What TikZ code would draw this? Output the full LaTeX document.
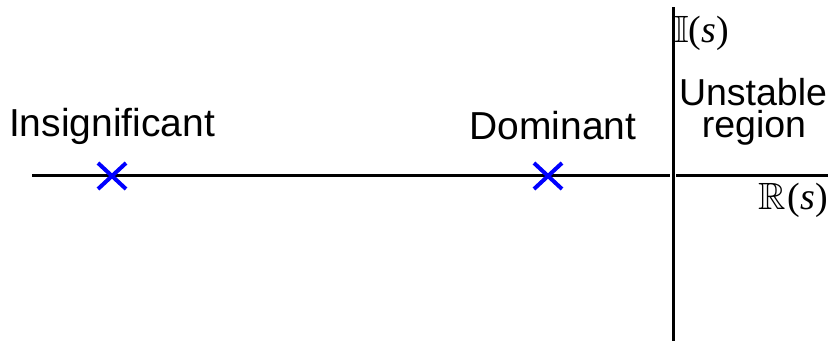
\documentclass[tikz,border=0pt]{standalone}
\usepackage{amssymb}
\usepackage{fontspec}
\setmainfont{Liberation Sans}
\newfontfamily\timesfont{Liberation Serif}
\begin{document}
\begin{tikzpicture}[x=1pt,y=-1pt,
  axis/.style={line width=3pt},
  pole/.style={draw=blue,line width=4pt},
  lbl/.style={inner sep=0pt,font=\fontsize{39}{41}\selectfont},
  slbl/.style={inner sep=0pt,anchor=base,font=\fontsize{37.5}{39}\selectfont},
  mlbl/.style={inner sep=0pt,font=\fontsize{38}{40}\selectfont\timesfont}]
\useasboundingbox (0,0) rectangle (828,341);
% axes
\coordinate (hl) at (32,175);
\coordinate (hm) at (670,175);
\coordinate (hn) at (676,175);
\coordinate (hr) at (828,175);
\coordinate (vt) at (673,7);
\coordinate (vb) at (673,341);
\draw[axis] (hl) -- (hm);
\draw[axis] (hn) -- (hr);
\draw[axis] (vt) -- (vb);
% poles
\coordinate (p1) at (112,176);
\coordinate (p2) at (548,176);
\foreach \p in {p1,p2}{
  \draw[pole] ([shift={(-14,-13)}]\p) -- ([shift={(14,13)}]\p);
  \draw[pole] ([shift={(-14,13)}]\p) -- ([shift={(14,-13)}]\p);
}
% labels
\node[lbl] (ins) at (112,126) {Insignificant};
\node[lbl] (dom) at (553,126) {Dominant};
\node[slbl] (uns) at (753,105) {Unstable};
\node[slbl] (reg) at (754,137) {region};
\node[mlbl,anchor=west] (im) at (674,33) {$\mathbb{I}$(\textit{s})};
\node[mlbl,anchor=east] (re) at (828,200) {$\mathbb{R}$\kern2pt(\textit{s})};
\end{tikzpicture}
\end{document}
